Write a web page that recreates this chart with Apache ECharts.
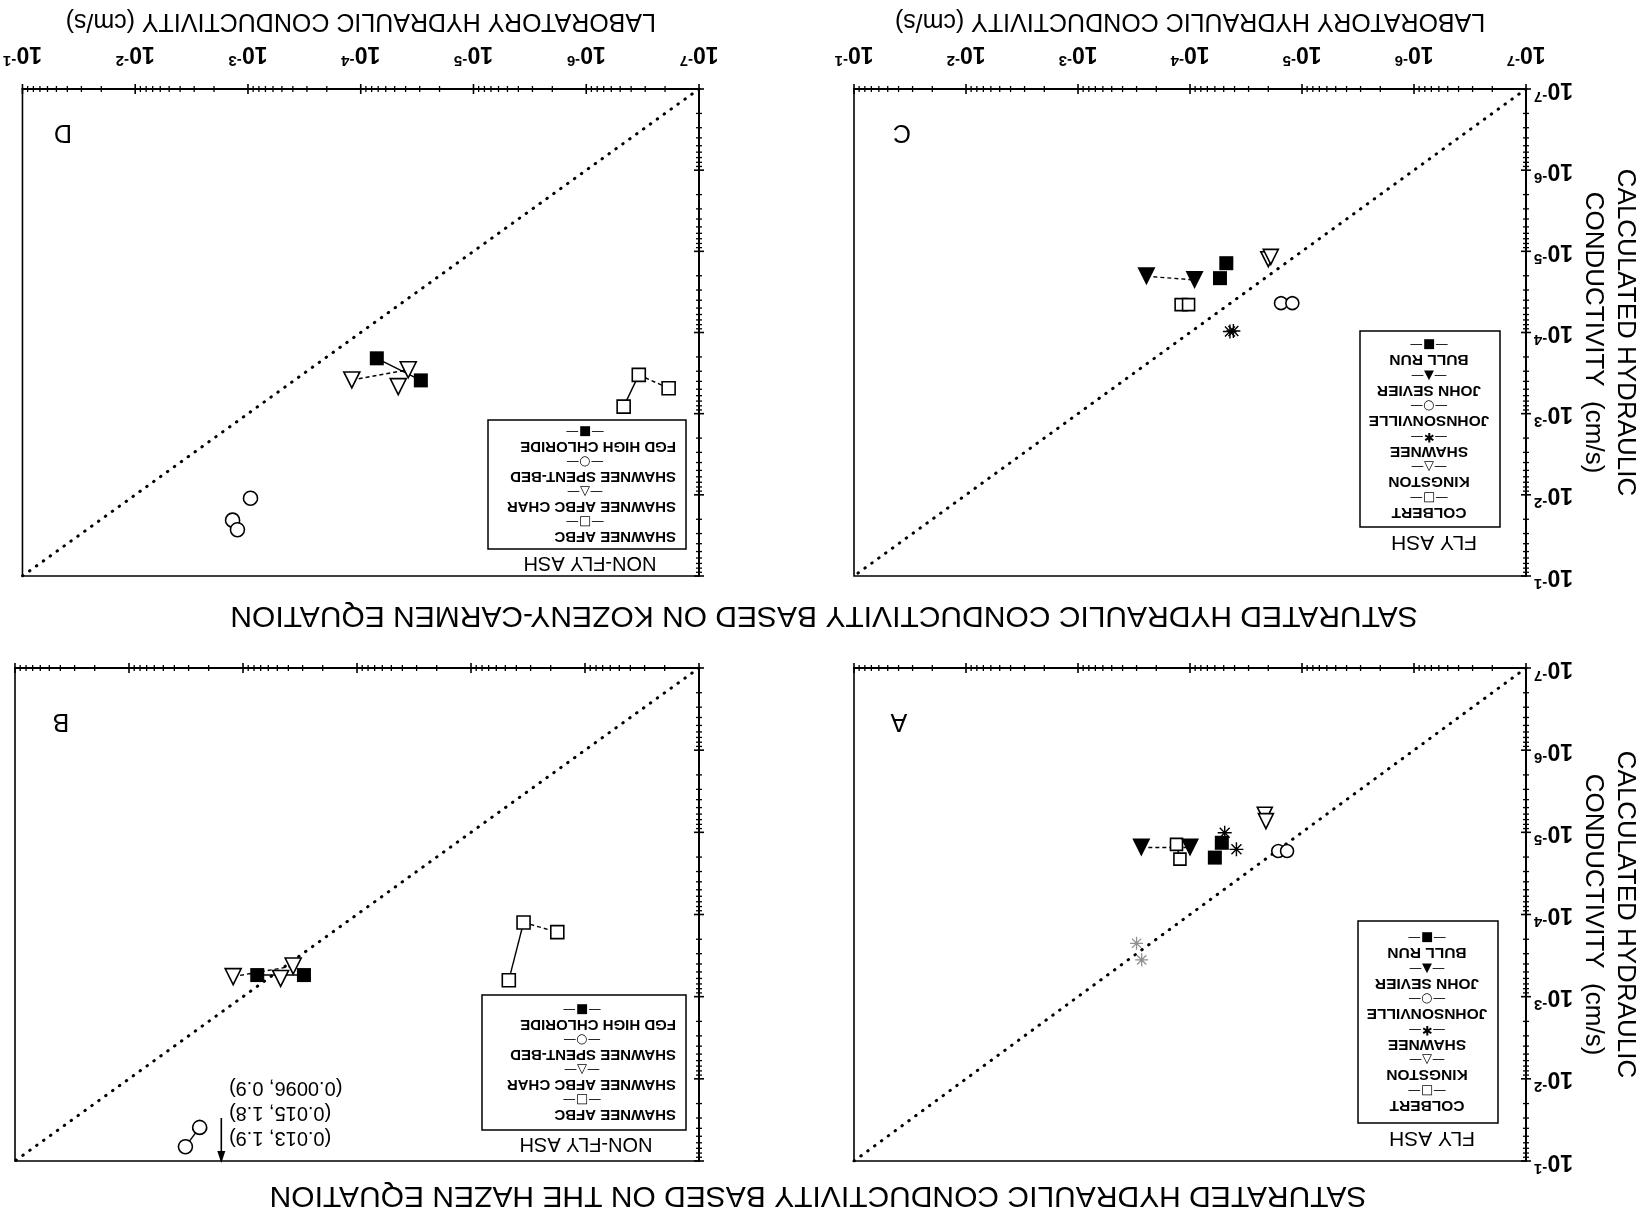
<!DOCTYPE html>
<html>
<head>
<meta charset="utf-8">
<script src="https://cdn.jsdelivr.net/npm/echarts@6/dist/echarts.min.js"></script>
<style>
  html, body { margin: 0; padding: 0; background: #fff; overflow: hidden; }
  /* the figure is laid out normally and printed turned half a revolution */
  #fig { width: 1648px; height: 1226px; transform: rotate(180deg); transform-origin: 50% 50%; }
</style>
</head>
<body>
<div id="fig"></div>
<script>
// Calculated vs. laboratory saturated hydraulic conductivity, cm/s, log-log.
const AXIS_MIN = 1e-7;
const AXIS_MAX = 1e-1;
const DECADES = [-7, -6, -5, -4, -3, -2, -1];
const MINOR_STEPS = [2, 3, 4, 5, 6, 7, 8, 9];

const FLY_ASH = ['COLBERT', 'KINGSTON', 'SHAWNEE', 'JOHNSONVILLE', 'JOHN SEVIER', 'BULL RUN'];
const NON_FLY_ASH = ['SHAWNEE AFBC', 'SHAWNEE AFBC CHAR', 'SHAWNEE SPENT-BED', 'FGD HIGH CHLORIDE'];

// Points are [laboratory K, calculated K].
// A: Hazen equation, fly ash
const A_COLBERT       = [[1.32e-4, 1.40e-5], [1.23e-4, 2.12e-5]];
const A_KINGSTON      = [[2.15e-5, 6.1e-6], [2.10e-5, 7.3e-6]];
const A_SHAWNEE       = [[4.9e-5, 1.01e-5], [3.85e-5, 1.61e-5]];
const A_SHAWNEE_LIGHT = [[3.0e-4, 2.24e-4], [2.7e-4, 3.56e-4]];
const A_JOHNSONVILLE  = [[1.63e-5, 1.69e-5], [1.36e-5, 1.69e-5]];
const A_JOHN_SEVIER   = [[2.72e-4, 1.53e-5], [1.0e-4, 1.53e-5]];
const A_BULL_RUN      = [[6.0e-5, 2.03e-5], [5.2e-5, 1.34e-5]];

// B: Hazen equation, non-fly ash
const B_AFBC          = [[3.46e-6, 1.25e-4], [1.75e-6, 1.64e-4], [4.66e-6, 6.3e-4]];
const B_AFBC_CHAR     = [[1.22e-3, 5.7e-4], [4.68e-4, 6.0e-4], [3.63e-4, 4.24e-4]];
const B_SPENT_BED     = [[3.2e-3, 6.7e-2], [2.4e-3, 3.9e-2]];
const B_FGD           = [[7.5e-4, 5.46e-4], [2.92e-4, 5.46e-4]];
// off-scale spent-bed results, listed beside the arrow
const B_OFFSCALE      = [[0.013, 1.9], [0.015, 1.8], [0.0096, 0.9]];
const B_ARROW         = [[1.55e-3, 3.0e-2], [1.55e-3, 1e-1]];

// C: Kozeny-Carmen equation, fly ash
const C_COLBERT       = [[1.20e-4, 4.54e-5], [1.03e-4, 4.54e-5]];
const C_KINGSTON      = [[2.0e-5, 1.25e-5], [1.9e-5, 1.17e-5]];
const C_SHAWNEE       = [[4.4e-5, 9.7e-5], [4.1e-5, 9.6e-5]];
const C_JOHNSONVILLE  = [[1.54e-5, 4.35e-5], [1.22e-5, 4.35e-5]];
const C_JOHN_SEVIER   = [[2.45e-4, 2.03e-5], [9.1e-5, 2.25e-5]];
const C_BULL_RUN      = [[4.74e-5, 1.40e-5], [5.4e-5, 2.14e-5]];

// D: Kozeny-Carmen equation, non-fly ash
const D_AFBC          = [[3.42e-7, 3.33e-4], [4.66e-7, 8.2e-4], [1.86e-7, 4.86e-4]];
const D_AFBC_CHAR     = [[1.2e-4, 3.84e-4], [3.79e-5, 2.88e-4], [4.65e-5, 4.65e-4]];
const D_SPENT_BED     = [[1.37e-3, 2.05e-2], [1.24e-3, 2.69e-2], [9.5e-4, 1.10e-2]];
const D_FGD           = [[7.2e-5, 2.08e-4], [2.93e-5, 3.89e-4]];

// pairs of points joined by a line: [panel, source, from, to]
const LINKS_SOLID = [
  ['A', 'COLBERT', 0, 1],
  ['B', 'SHAWNEE AFBC', 0, 2],
  ['B', 'FGD HIGH CHLORIDE', 0, 1],
  ['B', 'SHAWNEE SPENT-BED', 0, 1],
  ['D', 'SHAWNEE AFBC', 0, 1],
  ['D', 'FGD HIGH CHLORIDE', 0, 1]
];
const LINKS_DASHED = [
  ['A', 'JOHN SEVIER', 0, 1],
  ['C', 'JOHN SEVIER', 0, 1],
  ['B', 'SHAWNEE AFBC', 0, 1],
  ['B', 'SHAWNEE AFBC CHAR', 0, 2],
  ['D', 'SHAWNEE AFBC', 0, 2],
  ['D', 'SHAWNEE AFBC CHAR', 0, 1]
];

const PANEL_DATA = {
  A: { 'COLBERT': A_COLBERT, 'KINGSTON': A_KINGSTON, 'SHAWNEE': A_SHAWNEE, 'JOHNSONVILLE': A_JOHNSONVILLE, 'JOHN SEVIER': A_JOHN_SEVIER, 'BULL RUN': A_BULL_RUN },
  B: { 'SHAWNEE AFBC': B_AFBC, 'SHAWNEE AFBC CHAR': B_AFBC_CHAR, 'SHAWNEE SPENT-BED': B_SPENT_BED, 'FGD HIGH CHLORIDE': B_FGD },
  C: { 'COLBERT': C_COLBERT, 'KINGSTON': C_KINGSTON, 'SHAWNEE': C_SHAWNEE, 'JOHNSONVILLE': C_JOHNSONVILLE, 'JOHN SEVIER': C_JOHN_SEVIER, 'BULL RUN': C_BULL_RUN },
  D: { 'SHAWNEE AFBC': D_AFBC, 'SHAWNEE AFBC CHAR': D_AFBC_CHAR, 'SHAWNEE SPENT-BED': D_SPENT_BED, 'FGD HIGH CHLORIDE': D_FGD }
};

// ---------- layout and styling ----------
const FONT = '"Liberation Sans", Arial, Helvetica, sans-serif';
const GLYPH_FONT = '"DejaVu Sans", sans-serif';
const INK = '#000';

const PANELS = ['A', 'B', 'C', 'D'];
const BOX = {
  A: { left: 122, top: 65,  width: 672, height: 493 },
  B: { left: 949, top: 65,  width: 684, height: 493 },
  C: { left: 122, top: 650, width: 672, height: 487 },
  D: { left: 949, top: 650, width: 680, height: 487 }
};
const X_LABELS = { A: false, B: false, C: true, D: true };
const Y_LABELS = { A: true, B: false, C: true, D: false };

const ASTERISK = 'path://M9,0h2v20h-2z M0,9h20v2h-20z M2.2,3.6L3.6,2.2L17.8,16.4L16.4,17.8z M16.4,2.2L17.8,3.6L3.6,17.8L2.2,16.4z';
const MARKERS = {
  'COLBERT':           { symbol: 'rect',     size: 12, open: true,  glyph: '\u25A1' },
  'KINGSTON':          { symbol: 'triangle', size: 15, open: true,  glyph: '\u25B3' },
  'SHAWNEE':           { symbol: ASTERISK,   size: 14, open: false, glyph: '\u2731' },
  'JOHNSONVILLE':      { symbol: 'circle',   size: 13, open: true,  glyph: '\u25CB' },
  'JOHN SEVIER':       { symbol: 'triangle', size: 18, open: false, glyph: '\u25B2' },
  'BULL RUN':          { symbol: 'rect',     size: 14, open: false, glyph: '\u25A0' },
  'SHAWNEE AFBC':      { symbol: 'rect',     size: 13, open: true,  glyph: '\u25A1' },
  'SHAWNEE AFBC CHAR': { symbol: 'triangle', size: 16, open: true,  glyph: '\u25B3' },
  'SHAWNEE SPENT-BED': { symbol: 'circle',   size: 14, open: true,  glyph: '\u25CB' },
  'FGD HIGH CHLORIDE': { symbol: 'rect',     size: 14, open: false, glyph: '\u25A0' }
};

// tick values along both log axes: [value, value, 1 for a decade tick]
const TICK_ROWS = [];
DECADES.forEach(d => {
  const base = Math.pow(10, d);
  TICK_ROWS.push([base, base, 1]);
  if (d < -1) MINOR_STEPS.forEach(k => TICK_ROWS.push([k * base, k * base, 0]));
});

const labelRich = {
  b: { fontFamily: FONT, fontSize: 23, fontWeight: 'bold', color: INK },
  e: { fontFamily: FONT, fontSize: 15, fontWeight: 'bold', color: INK, padding: [0, 0, 14, 0] }
};
const powerLabel = v => '{b|10}{e|' + Math.round(Math.log10(v)) + '}';

const option = {
  animation: false,
  backgroundColor: '#fff',
  grid: [], xAxis: [], yAxis: [], series: [], legend: [], graphic: []
};

// tick marks crossing the lower and left axis lines, placed by the log scales
function tickSeries(gi, dim) {
  return {
    type: 'custom', xAxisIndex: gi, yAxisIndex: gi, silent: true, clip: false, z: 6,
    data: TICK_ROWS,
    renderItem: (params, api) => {
      const v = api.value(0);
      const major = api.value(2) === 1;
      const half = major ? 5 : 3;
      const pt = dim === 'x' ? api.coord([v, AXIS_MIN]) : api.coord([AXIS_MIN, v]);
      const shape = dim === 'x'
        ? { x1: pt[0], y1: pt[1] - half, x2: pt[0], y2: pt[1] + half }
        : { x1: pt[0] - half, y1: pt[1], x2: pt[0] + half, y2: pt[1] };
      return { type: 'line', shape: shape, style: { stroke: INK, lineWidth: major ? 1.6 : 1.3 } };
    }
  };
}

PANELS.forEach((p, gi) => {
  option.grid.push(Object.assign({ show: true, borderColor: INK, borderWidth: 1.6, backgroundColor: 'transparent' }, BOX[p]));

  const logAxis = { type: 'log', logBase: 10, gridIndex: gi, min: AXIS_MIN, max: AXIS_MAX, splitLine: { show: false } };

  option.xAxis.push(Object.assign({}, logAxis, {
    position: 'bottom',
    axisLine: { show: true, lineStyle: { color: INK, width: 2 } },
    axisTick: { show: false },
    axisLabel: { show: X_LABELS[p], margin: 21, formatter: powerLabel, rich: labelRich },
    name: X_LABELS[p] ? 'LABORATORY HYDRAULIC CONDUCTIVITY (cm/s)' : '',
    nameLocation: 'middle', nameGap: 56,
    nameTextStyle: { fontFamily: FONT, fontSize: 25, color: INK }
  }));

  option.yAxis.push(Object.assign({}, logAxis, {
    position: 'left',
    axisLine: { show: true, lineStyle: { color: INK, width: 2 } },
    axisTick: { show: false },
    axisLabel: { show: Y_LABELS[p], margin: 8, formatter: powerLabel, rich: labelRich },
    name: Y_LABELS[p] ? 'CALCULATED HYDRAULIC\nCONDUCTIVITY  (cm/s)' : '',
    nameLocation: 'middle', nameRotate: 90, nameGap: 50,
    nameTextStyle: { fontFamily: FONT, fontSize: 26, lineHeight: 32, color: INK, align: 'center' }
  }));

  option.series.push(tickSeries(gi, 'x'));
  option.series.push(tickSeries(gi, 'y'));

  // 1:1 line
  option.series.push({
    type: 'line', xAxisIndex: gi, yAxisIndex: gi, silent: true, symbol: 'none', z: 1,
    data: [[AXIS_MIN, AXIS_MIN], [AXIS_MAX, AXIS_MAX]],
    lineStyle: { color: INK, width: 3, type: [0.5, 8], cap: 'round' }
  });

  const names = (p === 'A' || p === 'C') ? FLY_ASH : NON_FLY_ASH;
  names.forEach(n => {
    const m = MARKERS[n];
    option.series.push({
      type: 'scatter', name: n, xAxisIndex: gi, yAxisIndex: gi, z: 5,
      data: PANEL_DATA[p][n],
      symbol: m.symbol, symbolSize: m.size,
      itemStyle: m.open ? { color: '#fff', borderColor: INK, borderWidth: 1.6, opacity: 1 }
                        : { color: INK, borderWidth: 0, opacity: 1 }
    });
  });
});

// two lighter Shawnee results in panel A
option.series.push({
  type: 'scatter', name: 'SHAWNEE', xAxisIndex: 0, yAxisIndex: 0, z: 4,
  data: A_SHAWNEE_LIGHT, symbol: ASTERISK, symbolSize: 13,
  itemStyle: { color: '#8f8f8f', opacity: 1 }
});

// joined measurements
function addLinks(list, dashed) {
  list.forEach(([p, n, i, j]) => {
    const gi = PANELS.indexOf(p);
    const pts = PANEL_DATA[p][n];
    option.series.push({
      type: 'line', xAxisIndex: gi, yAxisIndex: gi, silent: true, symbol: 'none', z: 3,
      data: [pts[i], pts[j]],
      lineStyle: { color: INK, width: 1.4, type: dashed ? [4, 3] : 'solid' }
    });
  });
}
addLinks(LINKS_SOLID, false);
addLinks(LINKS_DASHED, true);

// arrow pointing to the off-scale spent-bed values in panel B
option.series.push({
  type: 'line', xAxisIndex: 1, yAxisIndex: 1, silent: true, symbol: 'none', z: 3,
  data: B_ARROW, lineStyle: { color: INK, width: 1.6 }
});
option.series.push({
  type: 'scatter', xAxisIndex: 1, yAxisIndex: 1, silent: true, z: 3,
  data: [B_ARROW[1]], symbol: 'triangle', symbolSize: [8, 12], symbolOffset: [0, 4],
  itemStyle: { color: INK, opacity: 1 }
});

// legends
function legendBox(names, pos, textWidth, nameAlign, pad, fontSize) {
  return {
    orient: 'vertical', left: pos.left, top: pos.top,
    itemWidth: 0, itemHeight: 0, itemGap: 1, icon: 'rect',
    selectedMode: false, padding: pad,
    borderColor: INK, borderWidth: 1.5, backgroundColor: '#fff',
    data: names,
    formatter: n => '{n|' + n + '}\n{s|\u2014' + MARKERS[n].glyph + '\u2014}',
    textStyle: {
      color: INK,
      rich: {
        n: { fontFamily: FONT, fontSize: fontSize, fontWeight: 'bold', lineHeight: 16, width: textWidth, align: nameAlign, color: INK },
        s: { fontFamily: GLYPH_FONT, fontSize: 13, lineHeight: 14, width: textWidth, align: 'center', color: INK }
      }
    }
  };
}
option.legend.push(legendBox(FLY_ASH, { left: 150, top: 103 }, 122, 'center', [10, 8, 10, 4], 15.5));
option.legend.push(legendBox(FLY_ASH, { left: 148, top: 699 }, 122, 'center', [7, 8, 7, 4], 15.5));
option.legend.push(legendBox(NON_FLY_ASH, { left: 962, top: 96 }, 188, 'left', [8, 6, 8, 4], 15));
option.legend.push(legendBox(NON_FLY_ASH, { left: 962, top: 677 }, 182, 'left', [5, 6, 5, 4], 15));

// text: figure headings, panel letters, legend captions, off-scale note
function text(x, y, str, size, weight, align, vAlign, lh) {
  return {
    type: 'text', x: x, y: y, silent: true, z: 10,
    style: {
      text: str, fill: INK, fontFamily: FONT, fontSize: size, fontWeight: weight || 'normal',
      align: align || 'center', verticalAlign: vAlign || 'middle', lineHeight: lh
    }
  };
}
option.graphic.push(text(830, 31, 'SATURATED HYDRAULIC CONDUCTIVITY BASED ON THE HAZEN EQUATION', 30));
option.graphic.push(text(824, 611, 'SATURATED HYDRAULIC CONDUCTIVITY BASED ON KOZENY-CARMEN EQUATION', 30));
option.graphic.push(text(749, 505, 'A', 25));
option.graphic.push(text(1587, 505, 'B', 25));
option.graphic.push(text(746, 1094, 'C', 25));
option.graphic.push(text(1585, 1094, 'D', 25));
option.graphic.push(text(216, 88, 'FLY ASH', 21));
option.graphic.push(text(214, 684, 'FLY ASH', 21));
option.graphic.push(text(1062, 82, 'NON-FLY ASH', 20));
option.graphic.push(text(1058, 663, 'NON-FLY ASH', 20));
option.graphic.push(text(1419, 76, B_OFFSCALE.map(([k, c]) => '(' + k + ', ' + c + ')').join('\n'), 20, 'normal', 'right', 'top', 25));

const chart = echarts.init(document.getElementById('fig'), null, { renderer: 'canvas' });
chart.setOption(option);
</script>
</body>
</html>
